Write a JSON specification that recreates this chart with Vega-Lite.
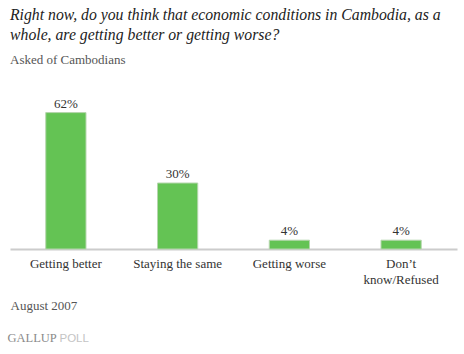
{
  "$schema": "https://vega.github.io/schema/vega-lite/v6.json",
  "width": 447,
  "height": 154,
  "autosize": "none",
  "padding": {"left": 10, "top": 95, "right": 7, "bottom": 105},
  "background": "white",
  "title": {
    "text": ["Right now, do you think that economic conditions in Cambodia, as a", "whole, are getting better or getting worse?"],
    "subtitle": "Asked of Cambodians",
    "anchor": "start",
    "frame": "group",
    "font": "Liberation Serif",
    "fontStyle": "italic",
    "fontWeight": "normal",
    "fontSize": 15.75,
    "lineHeight": 20,
    "color": "#222222",
    "subtitleFont": "Liberation Serif",
    "subtitleFontSize": 13,
    "subtitleColor": "#555555",
    "subtitlePadding": 10,
    "offset": 27
  },
  "data": {
    "values": [
      {"response": "Getting better", "pct": 0.62},
      {"response": "Staying the same", "pct": 0.30},
      {"response": "Getting worse", "pct": 0.04},
      {"response": "Don’t know/Refused", "pct": 0.04}
    ]
  },
  "encoding": {
    "x": {
      "field": "response",
      "type": "nominal",
      "sort": null,
      "scale": {"paddingInner": 0.64, "paddingOuter": 0.32},
      "axis": {
        "title": "August 2007",
        "titleFont": "Liberation Serif",
        "titleFontSize": 13,
        "titleFontWeight": "normal",
        "titleColor": "#555555",
        "titleAnchor": "start",
        "titleAlign": "left",
        "titleBaseline": "alphabetic",
        "titleX": 0,
        "titleY": 60,
        "labelAngle": 0,
        "labelFont": "Liberation Serif",
        "labelFontSize": 13,
        "labelColor": "#333333",
        "labelPadding": 8,
        "labelLineHeight": 16,
        "labelExpr": "datum.label == 'Don’t know/Refused' ? ['Don’t', 'know/Refused'] : datum.label",
        "ticks": false,
        "domainColor": "#cccccc",
        "domainWidth": 2
      }
    },
    "y": {
      "field": "pct",
      "type": "quantitative",
      "scale": {"domain": [0, 0.7]},
      "axis": {
        "orient": "left",
        "domain": false,
        "ticks": false,
        "labels": false,
        "grid": false,
        "title": "GALLUP",
        "titleAngle": 0,
        "titleAlign": "left",
        "titleBaseline": "alphabetic",
        "titleX": -3,
        "titleY": 246,
        "titleFont": "Liberation Serif",
        "titleFontSize": 12.5,
        "titleFontWeight": "normal",
        "titleColor": "#8a8a8a"
      }
    }
  },
  "layer": [
    {
      "mark": {"type": "bar", "color": "#64c354", "stroke": "#b5d6ad", "strokeWidth": 1}
    },
    {
      "mark": {"type": "text", "baseline": "alphabetic", "dy": -5, "font": "Liberation Serif", "fontSize": 13, "color": "#333333"},
      "encoding": {
        "text": {"field": "pct", "type": "quantitative", "format": ".0%"},
        "y": {
          "field": "pct",
          "type": "quantitative",
          "axis": {
            "orient": "right",
            "domain": false,
            "ticks": false,
            "labels": false,
            "grid": false,
            "title": "POLL",
            "titleAngle": 0,
            "titleAlign": "left",
            "titleBaseline": "alphabetic",
            "titleX": -398,
            "titleY": 246,
            "titleFont": "Liberation Sans",
            "titleFontSize": 11.5,
            "titleFontWeight": "normal",
            "titleColor": "#c4c4c4"
          }
        }
      }
    }
  ],
  "resolve": {"axis": {"y": "independent"}},
  "config": {"view": {"stroke": null}}
}
